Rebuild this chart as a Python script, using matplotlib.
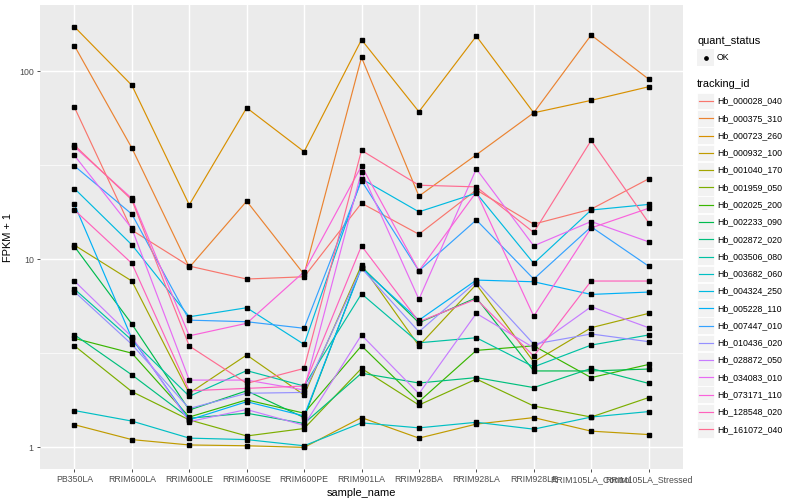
import matplotlib
matplotlib.use("Agg")
import matplotlib.pyplot as plt
from matplotlib.patches import Rectangle
from matplotlib.lines import Line2D
import numpy as np

samples = ["PB350LA", "RRIM600LA", "RRIM600LE", "RRIM600SE", "RRIM600PE", "RRIM901LA",
           "RRIM928BA", "RRIM928LA", "RRIM928LE", "RRIM105LA_Control", "RRIM105LA_Stressed"]

tracking_ids = ["Hb_000028_040", "Hb_000375_310", "Hb_000723_260", "Hb_000932_100", "Hb_001040_170",
                "Hb_001959_050", "Hb_002025_200", "Hb_002233_090", "Hb_002872_020", "Hb_003506_080",
                "Hb_003682_060", "Hb_004324_250", "Hb_005228_110", "Hb_007447_010", "Hb_010436_020",
                "Hb_028872_050", "Hb_034083_010", "Hb_073171_110", "Hb_128548_020", "Hb_161072_040"]

# FPKM + 1 values per tracking id, one per sample
hb_000028_040 = [64.4, 14.3, 9.21, 7.86, 8.08, 19.9, 13.6, 23.4, 15.4, 18.5, 26.8]
hb_000375_310 = [136.8, 39.1, 9.06, 20.4, 8.32, 118.7, 21.7, 36.0, 60.2, 156.0, 91.0]
hb_000723_260 = [172.6, 84.3, 19.5, 64.0, 37.4, 147.3, 61.0, 154.0, 60.2, 70.1, 82.8]
hb_000932_100 = [1.32, 1.10, 1.03, 1.02, 1.00, 1.44, 1.12, 1.33, 1.44, 1.22, 1.17]
hb_001040_170 = [11.9, 7.67, 1.94, 3.10, 1.90, 9.33, 3.47, 7.36, 2.85, 4.33, 5.16]
hb_001959_050 = [3.47, 1.98, 1.40, 1.15, 1.26, 2.63, 1.68, 2.31, 1.66, 1.45, 1.84]
hb_002025_200 = [3.80, 3.17, 1.45, 1.79, 1.52, 3.47, 1.75, 3.28, 3.47, 2.35, 2.76]
hb_002233_090 = [11.7, 4.53, 1.58, 2.00, 1.44, 9.14, 4.60, 6.25, 2.55, 2.55, 2.61]
hb_002872_020 = [3.97, 2.43, 1.43, 1.52, 1.34, 2.48, 2.20, 2.35, 2.08, 2.63, 2.19]
hb_003506_080 = [6.95, 3.72, 1.87, 2.56, 2.12, 6.56, 3.60, 3.83, 2.68, 3.50, 3.96]
hb_003682_060 = [1.57, 1.38, 1.12, 1.10, 1.02, 1.35, 1.27, 1.36, 1.25, 1.45, 1.55]
hb_004324_250 = [23.8, 11.95, 4.95, 5.53, 3.53, 26.8, 17.9, 22.5, 9.52, 18.3, 19.6]
hb_005228_110 = [19.6, 3.80, 1.40, 1.75, 1.47, 9.0, 4.75, 7.76, 7.60, 6.51, 6.70]
hb_007447_010 = [31.4, 17.4, 4.75, 4.66, 4.30, 26.2, 8.69, 16.2, 7.86, 14.9, 9.21]
hb_010436_020 = [6.73, 3.53, 1.61, 1.94, 1.96, 8.96, 4.12, 7.60, 3.54, 4.01, 3.65]
hb_028872_050 = [7.67, 3.87, 1.37, 1.59, 1.31, 3.96, 1.93, 5.16, 3.39, 5.60, 4.33]
hb_034083_010 = [35.7, 14.6, 2.28, 2.28, 2.02, 29.3, 6.13, 30.3, 11.8, 15.9, 12.4]
hb_073171_110 = [39.7, 21.1, 3.92, 4.57, 8.59, 31.4, 8.69, 22.8, 4.99, 14.7, 18.7]
hb_128548_020 = [18.3, 9.52, 2.00, 2.06, 2.12, 11.8, 4.66, 6.15, 3.06, 7.67, 7.67]
hb_161072_040 = [40.5, 20.7, 3.46, 2.19, 2.63, 38.0, 24.8, 24.3, 13.9, 42.9, 15.7]

series = [hb_000028_040, hb_000375_310, hb_000723_260, hb_000932_100, hb_001040_170,
          hb_001959_050, hb_002025_200, hb_002233_090, hb_002872_020, hb_003506_080,
          hb_003682_060, hb_004324_250, hb_005228_110, hb_007447_010, hb_010436_020,
          hb_028872_050, hb_034083_010, hb_073171_110, hb_128548_020, hb_161072_040]

colors = ["#F8766D", "#EA8331", "#D89000", "#C09B00", "#A3A500", "#7CAE00", "#39B600",
          "#00BB4E", "#00BF7D", "#00C1A3", "#00BFC4", "#00BAE0", "#00B0F6", "#35A2FF",
          "#9590FF", "#C77CFF", "#E76BF3", "#FA62DB", "#FF62BC", "#FF6C91"]

plt.rcParams['font.family'] = ['Liberation Sans', 'DejaVu Sans']

W, H = 800, 500
fig = plt.figure(figsize=(8, 5), dpi=100)
L, R, T, B = 40, 683, 5, 469
ax = fig.add_axes([L / W, 1 - B / H, (R - L) / W, (B - T) / H])
ax.set_facecolor("#EBEBEB")
ax.set_yscale("log")

x = np.arange(len(samples))
for vals, c in zip(series, colors):
    ax.plot(x, vals, color=c, lw=0.85, zorder=3, solid_capstyle='butt')
for vals in series:
    ax.plot(x, vals, ls='none', marker='s', ms=2.2, color='black', zorder=4)

ax.set_xlim(-0.6, len(samples) - 0.4)
ax.set_ylim(10 ** -0.115, 10 ** 2.353)
ax.set_xticks(x)
ax.set_xticklabels(samples)
ax.set_yticks([1, 10, 100])
ax.set_yticklabels(["1", "10", "100"])
ax.yaxis.set_minor_locator(matplotlib.ticker.FixedLocator([10 ** 0.5, 10 ** 1.5]))
ax.yaxis.set_minor_formatter(matplotlib.ticker.NullFormatter())
ax.grid(True, which='major', color='white', lw=1.05, zorder=0)
ax.grid(True, which='minor', axis='y', color='white', lw=0.5, zorder=0)
ax.set_axisbelow(True)
for s in ax.spines.values():
    s.set_visible(False)
ax.tick_params(axis='both', which='major', length=2.5, width=0.6, color='#333333',
               labelsize=6.3, labelcolor='#4D4D4D', pad=2)
ax.tick_params(axis='y', which='minor', length=0)
ax.set_xlabel("sample_name", fontsize=7.9, color='black', labelpad=3)
ax.set_ylabel("FPKM + 1", fontsize=7.9, color='black', labelpad=4)

# Legends (drawn manually in pixel coordinates, ggplot-style)
def fx(px):
    return px / W

def fy(py):
    return 1 - py / H

fig.text(fx(697), fy(41), "quant_status", fontsize=7.9, va='center', ha='left')
fig.patches.append(Rectangle((fx(697), fy(66)), 17 / W, 17 / H, transform=fig.transFigure,
                             facecolor='#F2F2F2', edgecolor='none'))
fig.lines.append(Line2D([fx(705.5)], [fy(57.5)], transform=fig.transFigure, marker='o',
                        ms=2.4, color='black', ls='none'))
fig.text(fx(717), fy(57.5), "OK", fontsize=6.3, va='center', ha='left')

fig.text(fx(697), fy(84), "tracking_id", fontsize=7.9, va='center', ha='left')
y0, dy = 101, 17.28
for i, (lab, c) in enumerate(zip(tracking_ids, colors)):
    yc = y0 + i * dy
    fig.patches.append(Rectangle((fx(697), fy(yc + 8.3)), 17 / W, 16.6 / H, transform=fig.transFigure,
                                 facecolor='#F2F2F2', edgecolor='white', lw=0.6))
    fig.lines.append(Line2D([fx(698.5), fx(712.5)], [fy(yc), fy(yc)], transform=fig.transFigure,
                            color=c, lw=0.85))
    fig.text(fx(717), fy(yc), lab, fontsize=6.3, va='center', ha='left')

fig.savefig("out.png", dpi=100, facecolor='white')
